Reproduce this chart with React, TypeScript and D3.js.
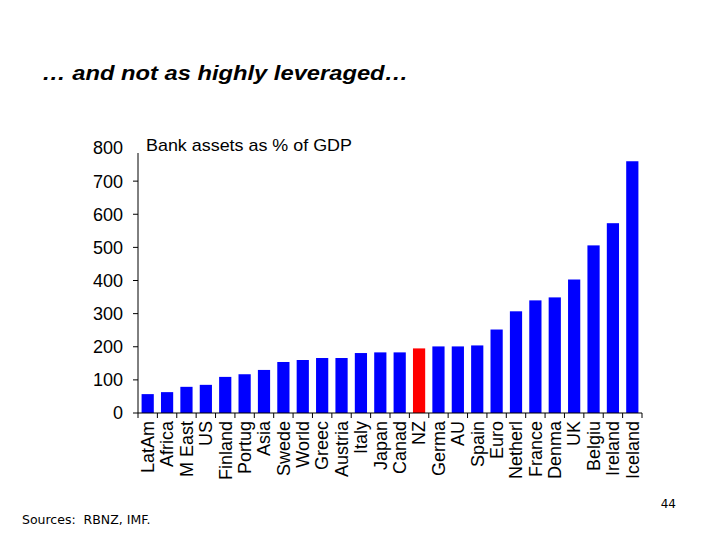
import * as d3 from "d3";

const categories = [
  "LatAm", "Africa", "M East", "US", "Finland", "Portug", "Asia", "Swede",
  "World", "Greec", "Austria", "Italy", "Japan", "Canad", "NZ", "Germa",
  "AU", "Spain", "Euro", "Netherl", "France", "Denma", "UK", "Belgiu",
  "Ireland", "Iceland",
];
const bankAssets = [
  57, 63, 79, 85, 109, 117, 130, 154, 160, 166, 166, 181, 183, 183, 195, 201,
  201, 204, 252, 307, 340, 349, 403, 506, 573, 760,
];
const highlight = "NZ";
const yTicks = [0, 100, 200, 300, 400, 500, 600, 700, 800];

export default function App() {
  const width = 720;
  const height = 540;
  const margin = { left: 138, right: 78, top: 148, bottom: 127 };

  const x = d3
    .scaleBand<string>()
    .domain(categories)
    .range([margin.left, width - margin.right])
    .paddingInner(0.37)
    .paddingOuter(0.185);

  const y = d3
    .scaleLinear()
    .domain([0, 800])
    .range([height - margin.bottom, margin.top]);

  const halfGap = (x.step() - x.bandwidth()) / 2;
  const boundaries = categories.map((c) => (x(c) as number) - halfGap);
  boundaries.push(width - margin.right);

  const font = "Arial, 'Liberation Sans', sans-serif";
  const smallFont = "'DejaVu Sans', Verdana, sans-serif";

  return (
    <svg
      width={width}
      height={height}
      style={{ position: "absolute", left: 0, top: 0, background: "#fff" }}
    >
      {/* slide title (the slide text is a little wide, hence the x-stretch) */}
      <text
        transform="translate(42, 80) scale(1.13, 1)"
        fontFamily={font}
        fontSize={21}
        fontWeight="bold"
        fontStyle="italic"
        fill="#000"
      >
        … and not as highly leveraged…
      </text>

      {/* bars */}
      {categories.map((c, i) => (
        <rect
          key={c}
          x={x(c)}
          y={y(bankAssets[i])}
          width={x.bandwidth()}
          height={y(0) - y(bankAssets[i])}
          fill={c === highlight ? "#ff0000" : "#0000ff"}
        />
      ))}

      {/* y axis */}
      <line
        x1={margin.left}
        x2={margin.left}
        y1={y(800) + 5}
        y2={y(0)}
        stroke="#000"
      />
      {yTicks.map((t) => (
        <g key={t}>
          {t < 800 && (
            <line
              x1={margin.left - 5}
              x2={margin.left}
              y1={y(t)}
              y2={y(t)}
              stroke="#000"
            />
          )}
          <text
            x={margin.left - 15}
            y={y(t)}
            dy="0.36em"
            textAnchor="end"
            fontFamily={font}
            fontSize={18}
            fill="#000"
          >
            {t}
          </text>
        </g>
      ))}

      {/* x axis */}
      <line
        x1={margin.left}
        x2={width - margin.right}
        y1={y(0)}
        y2={y(0)}
        stroke="#000"
      />
      {boundaries.map((b, i) => (
        <line key={i} x1={b} x2={b} y1={y(0)} y2={y(0) + 5} stroke="#000" />
      ))}
      {categories.map((c) => (
        <text
          key={c}
          transform={`translate(${(x(c) as number) + x.bandwidth() / 2}, ${
            y(0) + 8
          }) rotate(-90)`}
          dy="0.35em"
          textAnchor="end"
          fontFamily={font}
          fontSize={18}
          fill="#000"
        >
          {c}
        </text>
      ))}

      {/* series label */}
      <text
        transform="translate(146, 151) scale(1.12, 1)"
        fontFamily={font}
        fontSize={16}
        fill="#000"
      >
        Bank assets as % of GDP
      </text>

      {/* footer */}
      <text
        x={22}
        y={524}
        fontFamily={smallFont}
        fontSize={12.5}
        fill="#000"
        style={{ whiteSpace: "pre" }}
      >
        {"Sources:  RBNZ, IMF."}
      </text>
      <text
        x={676}
        y={508}
        textAnchor="end"
        fontFamily={smallFont}
        fontSize={12}
        fill="#000"
      >
        44
      </text>
    </svg>
  );
}
